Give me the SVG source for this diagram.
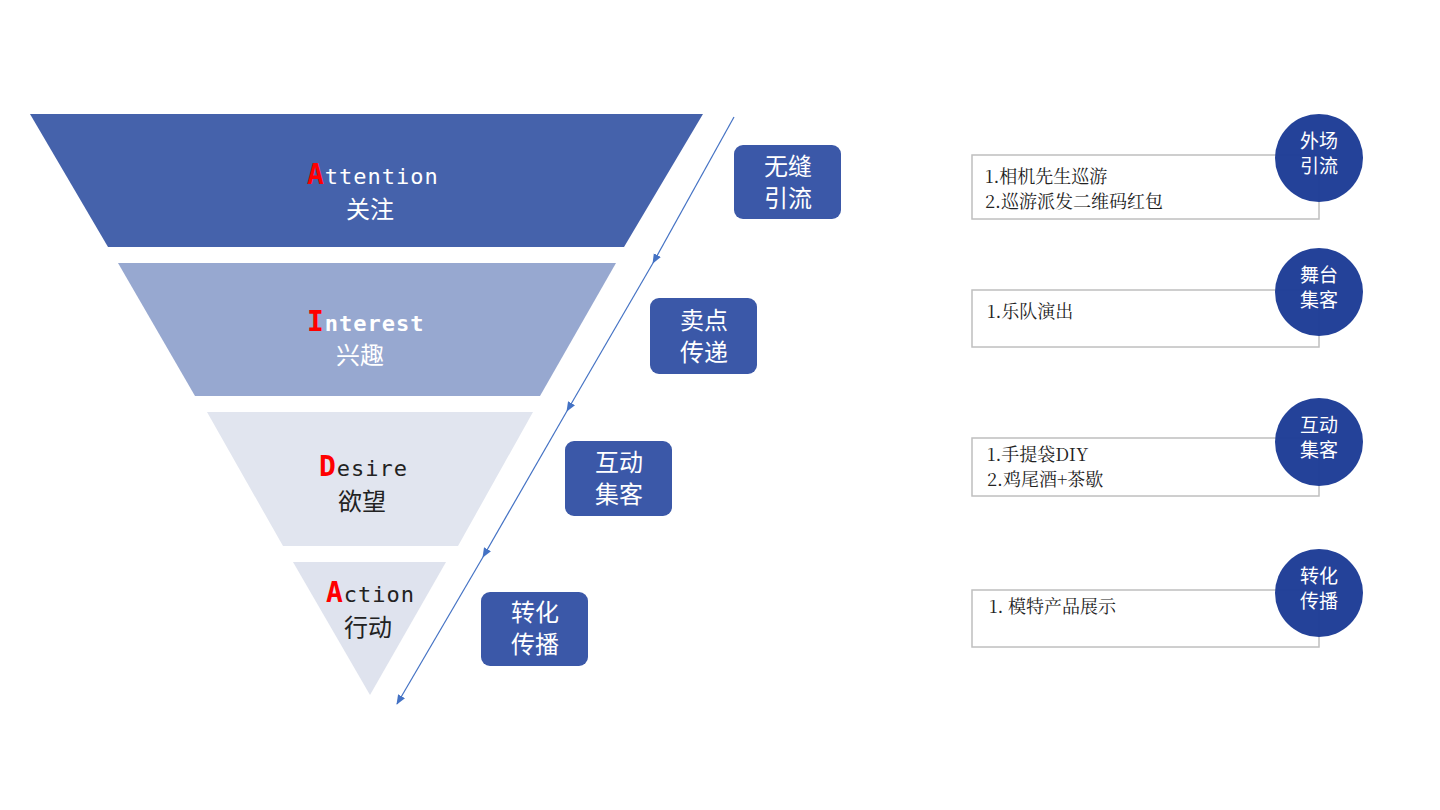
<svg xmlns="http://www.w3.org/2000/svg" width="1440" height="810" viewBox="0 0 1440 810">
<defs>
<style>
.t{font-family:"Noto Sans","Noto Sans CJK SC",sans-serif}
.en{font-family:"DejaVu Sans Mono","Noto Sans CJK SC",monospace;font-size:22px}
.cn{font-family:"Noto Sans CJK SC",sans-serif;font-size:24px}
.red{fill:#ff0000;font-weight:bold;font-size:28px}
.box{fill:#3b58a8}
.bt{font-family:"Noto Sans CJK SC",sans-serif;font-size:24px;fill:#ffffff;text-anchor:middle}
.rb{fill:#ffffff;stroke:#bfbfbf;stroke-width:1.5}
.rt{font-family:"Noto Serif CJK SC","Noto Sans CJK SC",serif;font-size:18px;fill:#222}
.c{fill:#1d3c96;fill-opacity:0.97}
.ct{font-family:"Noto Sans CJK SC",sans-serif;font-size:19px;fill:#ffffff;text-anchor:middle}
.ln{stroke:#4472c4;stroke-width:1.2;fill:none;marker-end:url(#ah)}
</style>
<marker id="ah" markerWidth="10" markerHeight="10" refX="9" refY="5" orient="auto" markerUnits="userSpaceOnUse"><path d="M0,1 L10,5 L0,9 Z" fill="#4472c4"/></marker>
</defs>
<rect width="1440" height="810" fill="#ffffff"/>
<g id="stage-attention">
<polygon points="30,114 703,114 624,247 108,247" fill="#4562ab"/>
<text x="307" y="184" class="en" fill="#ffffff" letter-spacing="1"><tspan class="red">A</tspan>ttention</text>
<text x="370" y="218" class="cn" fill="#ffffff" text-anchor="middle">关注</text>
</g>
<g id="stage-interest">
<polygon points="118,263 616,263 540,396 195,396" fill="#97a8d0"/>
<text x="307" y="331" class="en" fill="#ffffff" font-weight="bold" letter-spacing="1"><tspan class="red">I</tspan>nterest</text>
<text x="360" y="364" class="cn" fill="#ffffff" text-anchor="middle">兴趣</text>
</g>
<g id="stage-desire">
<polygon points="207,412 533,412 458,546 283,546" fill="#e1e5ef"/>
<text x="319" y="476" class="en" fill="#222" letter-spacing="1"><tspan class="red">D</tspan>esire</text>
<text x="362" y="510" class="cn" fill="#222" text-anchor="middle">欲望</text>
</g>
<g id="stage-action">
<polygon points="293,562 446,562 370,695" fill="#dfe3ee"/>
<text x="326" y="602" class="en" fill="#222" letter-spacing="1"><tspan class="red">A</tspan>ction</text>
<text x="368" y="636" class="cn" fill="#222" text-anchor="middle">行动</text>
</g>
<g id="connectors">
<line x1="734" y1="117" x2="653" y2="263" class="ln"/>
<line x1="653" y1="263" x2="567" y2="411" class="ln"/>
<line x1="567" y1="411" x2="483" y2="557" class="ln"/>
<line x1="483" y1="557" x2="397" y2="704" class="ln"/>
</g>
<g id="label-1"><rect x="734" y="145" width="107" height="74" rx="9" class="box"/><text x="788" y="175" class="bt">无缝</text><text x="788" y="207" class="bt">引流</text></g>
<g id="label-2"><rect x="650" y="298" width="107" height="76" rx="9" class="box"/><text x="704" y="329" class="bt">卖点</text><text x="704" y="361" class="bt">传递</text></g>
<g id="label-3"><rect x="565" y="441" width="107" height="75" rx="9" class="box"/><text x="619" y="471" class="bt">互动</text><text x="619" y="503" class="bt">集客</text></g>
<g id="label-4"><rect x="481" y="592" width="107" height="74" rx="9" class="box"/><text x="535" y="621" class="bt">转化</text><text x="535" y="653" class="bt">传播</text></g>
<g id="detail-1"><rect x="972" y="155" width="347" height="64" class="rb"/><text x="985" y="183" class="rt">1.相机先生巡游</text><text x="985" y="208" class="rt">2.巡游派发二维码红包</text></g>
<g id="detail-2"><rect x="972" y="290" width="347" height="57" class="rb"/><text x="987" y="318" class="rt">1.乐队演出</text></g>
<g id="detail-3"><rect x="972" y="438" width="347" height="58" class="rb"/><text x="987" y="461" class="rt">1.手提袋DIY</text><text x="987" y="486" class="rt">2.鸡尾酒+茶歇</text></g>
<g id="detail-4"><rect x="972" y="590" width="347" height="57" class="rb"/><text x="989" y="613" class="rt">1.  模特产品展示</text></g>
<g id="circle-1"><circle cx="1319" cy="158" r="44" class="c"/><text x="1319" y="148" class="ct">外场</text><text x="1319" y="173" class="ct">引流</text></g>
<g id="circle-2"><circle cx="1319" cy="292" r="44" class="c"/><text x="1319" y="282" class="ct">舞台</text><text x="1319" y="307" class="ct">集客</text></g>
<g id="circle-3"><circle cx="1319" cy="442" r="44" class="c"/><text x="1319" y="432" class="ct">互动</text><text x="1319" y="457" class="ct">集客</text></g>
<g id="circle-4"><circle cx="1319" cy="593" r="44" class="c"/><text x="1319" y="583" class="ct">转化</text><text x="1319" y="608" class="ct">传播</text></g>
</svg>
